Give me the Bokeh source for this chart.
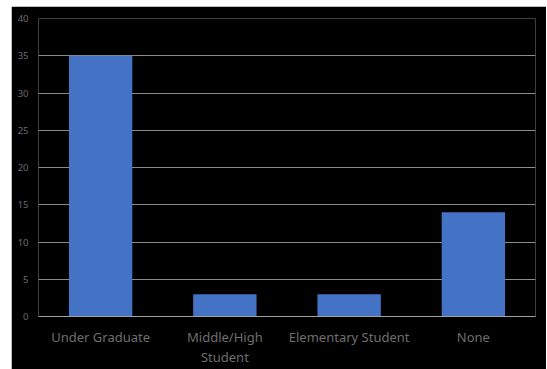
from bokeh.plotting import figure
from bokeh.models import ColumnDataSource, Range1d, FixedTicker
from bokeh.embed import file_html
from bokeh.resources import INLINE

categories = ["Under Graduate", "Middle/High Student", "Elementary Student", "None"]
tick_labels = ["Under Graduate", "Middle/High\nStudent", "Elementary Student", "None"]
counts = [35, 3, 3, 14]
y_ticks = [0, 5, 10, 15, 20, 25, 30, 35, 40]

xpos = [i + 0.5 for i in range(len(categories))]
src = ColumnDataSource(dict(x=xpos, cat=categories, val=counts))

p = figure(x_range=Range1d(0, len(categories)), y_range=Range1d(0, 40), width=535, height=363,
           margin=(6, 0, 0, 11), output_backend="svg", toolbar_location=None,
           background_fill_color="black", border_fill_color="black",
           min_border_left=27, min_border_right=11, min_border_top=12, min_border_bottom=53)
p.outline_line_color = None

p.vbar(x="x", top="val", width=0.51, source=src, color="#4472C4", line_color=None)

p.xgrid.grid_line_color = None
p.ygrid.grid_line_color = "#8c8c8c"
p.ygrid.grid_line_width = 1
p.yaxis.ticker = FixedTicker(ticks=y_ticks)

p.yaxis.axis_line_color = None
p.yaxis.major_tick_line_color = None
p.yaxis.minor_tick_line_color = None
p.yaxis.major_tick_out = 0
p.yaxis.major_tick_in = 0
p.yaxis.major_label_text_color = "#6a6a6a"
p.yaxis.major_label_text_font = "Noto Sans"
p.yaxis.major_label_text_font_size = "9.5px"
p.yaxis.major_label_standoff = 10

p.xaxis.ticker = FixedTicker(ticks=xpos)
p.xaxis.major_label_overrides = {x: lab for x, lab in zip(xpos, tick_labels)}
p.xaxis.axis_line_color = "#a0a0a0"
p.xaxis.major_tick_line_color = None
p.xaxis.minor_tick_line_color = None
p.xaxis.major_tick_out = 0
p.xaxis.major_tick_in = 0
p.xaxis.major_label_text_color = "#6e6e6e"
p.xaxis.major_label_text_font = "Noto Sans"
p.xaxis.major_label_text_font_size = "13px"
p.xaxis.major_label_text_line_height = 1.13
p.xaxis.major_label_standoff = 11

open("out.html", "w").write(file_html(p, INLINE))
